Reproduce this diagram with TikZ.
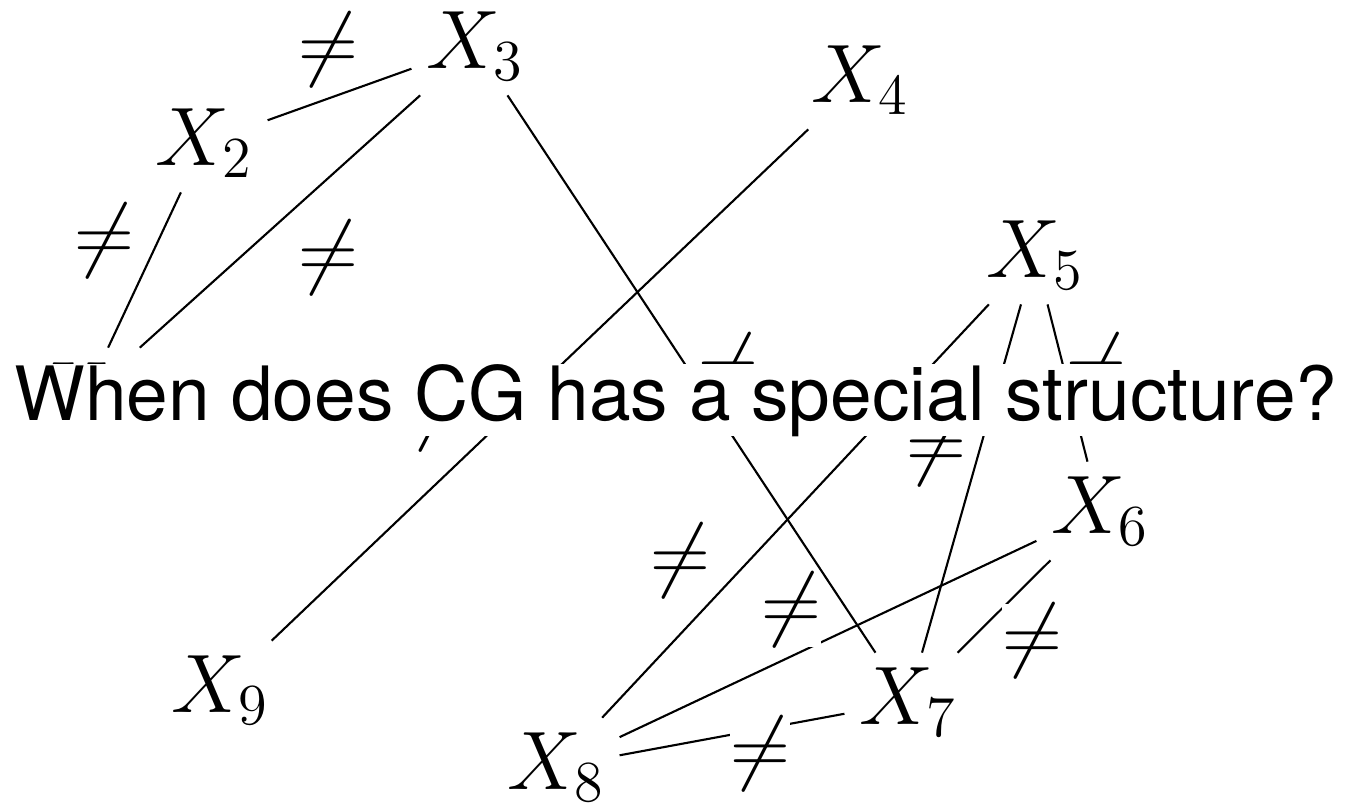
\RequirePackage{fix-cm}
\documentclass[tikz,border=0pt]{standalone}
\usepackage{fontspec}
\newfontfamily\heros{TeX Gyre Heros}

\begin{document}
\begin{tikzpicture}[x=0.01cm, y=-0.01cm,
    every node/.style={font=\fontsize{23.6}{28}\selectfont},
    var/.style={inner sep=4pt},
    neq/.style={fill=white, inner sep=0pt},
    ask/.style={font=\heros\fontsize{21.3}{25}\selectfont, fill=white, inner sep=0pt, anchor=base},
    link/.style={line width=0.6pt}
  ]
  \useasboundingbox (0,0) rectangle (1358,802);
  % variables
  \node[var] (x1) at (85,397) {$X_1$};
  \node[var] (x2) at (204,143) {$X_2$};
  \node[var] (x3) at (475,46) {$X_3$};
  \node[var] (x4) at (860,80) {$X_4$};
  \node[var] (x5) at (1035,255) {$X_5$};
  \node[var] (x6) at (1100,511) {$X_6$};
  \node[var] (x7) at (908,702) {$X_7$};
  \node[var] (x8) at (556,767) {$X_8$};
  \node[var] (x9) at (220,690) {$X_9$};
  % edges
  \draw[link] (x2) -- (x3);
  \draw[link] (x2) -- (x1);
  \draw[link] (x3) -- (x1);
  \draw[link] (x3) -- (x7);
  \draw[link] (x4) -- (x9);
  \draw[link] (x5) -- (x8);
  \draw[link] (x5) -- (x7);
  \draw[link] (x5) -- (x6);
  \draw[link] (x6) -- (x8);
  \draw[link] (x6) -- (x7);
  \draw[link] (x7) -- (x8);
  % edge marks
  \node[neq] (n23) at (328,50) {$\neq$};
  \node[neq] (n12) at (104,241) {$\neq$};
  \node[neq] (n13) at (328,258) {$\neq$};
  \node[neq] (n37) at (728,371) {$\neq$};
  \node[neq] (n49) at (437,414) {$\neq$};
  \node[neq] (n58) at (680,561) {$\neq$};
  \node[neq] (n57) at (936,449) {$\neq$};
  \node[neq] (n56) at (1096,371) {$\neq$};
  \node[neq] (n68) at (791,610) {$\neq$};
  \node[neq] (n67) at (1032,641) {$\neq$};
  \node[neq] (n78) at (760,754) {$\neq$};
  % question over the graph
  \node[ask] (q) at (676,420) {When does CG has a special structure?};
\end{tikzpicture}
\end{document}
